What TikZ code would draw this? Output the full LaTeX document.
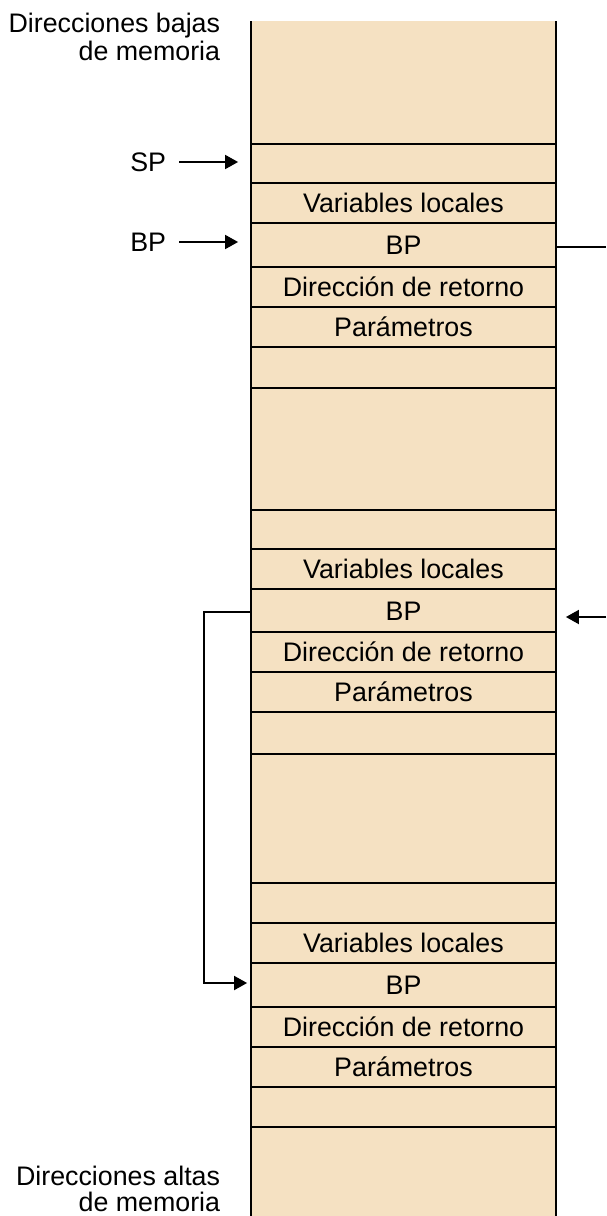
\documentclass[tikz,border=0pt]{standalone}
\usepackage{fontspec}
\setmainfont{Liberation Sans}
\usetikzlibrary{arrows.meta}
\definecolor{stackfill}{HTML}{F5E1C2}
\begin{document}
\begin{tikzpicture}[x=1pt,y=-1pt,
  line width=1.8pt,
  txt/.style={font=\fontsize{26.8pt}{28pt}\selectfont, inner sep=0pt,
              text height=19.5pt, text depth=0pt},
  cell/.style={txt, minimum width=305pt, anchor=center},
  lbl/.style={txt, anchor=east},
  side/.style={txt, anchor=base east},
  ptr/.style={-{Triangle[length=13pt,width=14pt]}}]
\useasboundingbox (0,0) rectangle (606,1216);

% the stack column, open at top and bottom
\fill[stackfill] (251,21) rectangle (556,1216);
\draw (251,21) -- (251,1216);
\draw (556,21) -- (556,1216);

% three stack frames: the seven boundaries of each
\foreach \n/\a/\b/\c/\d/\e/\f/\g in
   {1/144/183/223/267/307/347/388,
    2/510/549/589/632/672/712/754,
    3/883/923/963/1007/1047/1087/1127}{
  \foreach \y in {\a,\b,\c,\d,\e,\f,\g}
    \draw (251,\y) -- (556,\y);
  \node[cell, minimum height={(\b-\a)*1pt}] (sp\n) at (403.5,{(\a+\b)/2}) {};
  \node[cell, minimum height={(\c-\b)*1pt}] (vl\n) at (403.5,{(\b+\c)/2}) {Variables locales};
  \node[cell, minimum height={(\d-\c)*1pt}] (bp\n) at (403.5,{(\c+\d)/2}) {BP};
  \node[cell, minimum height={(\e-\d)*1pt}] (dr\n) at (403.5,{(\d+\e)/2}) {Dirección de retorno};
  \node[cell, minimum height={(\f-\e)*1pt}] (pa\n) at (403.5,{(\e+\f)/2}) {Parámetros};
}

% address labels
\node[side] (low1) at (221,32)   {Direcciones bajas};
\node[side] (low2) at (221,60)   {de memoria};
\node[side] (high1) at (221,1185) {Direcciones altas};
\node[side] (high2) at (221,1211) {de memoria};

% register pointers
\node[lbl] (spl) at (167,162) {SP};
\node[lbl] (bpl) at (167,242) {BP};
\draw[ptr] ([xshift=12pt]spl.east) -- ([xshift=-12pt]spl.east -| sp1.west);
\draw[ptr] ([xshift=12pt]bpl.east) -- ([xshift=-12pt]bpl.east -| bp1.west);

% saved BP chain
\coordinate (out1) at (606,247);
\coordinate (in2) at (606,617);
\draw (out1 -| bp1.east) -- (out1);
\draw[ptr] (in2) -- ([xshift=9pt]in2 -| bp2.east);
\draw[ptr] ([yshift=-1.5pt]bp2.west) -- ++(-46,0) |- ([xshift=-3pt,yshift=2pt]bp3.west);
\end{tikzpicture}
\end{document}
